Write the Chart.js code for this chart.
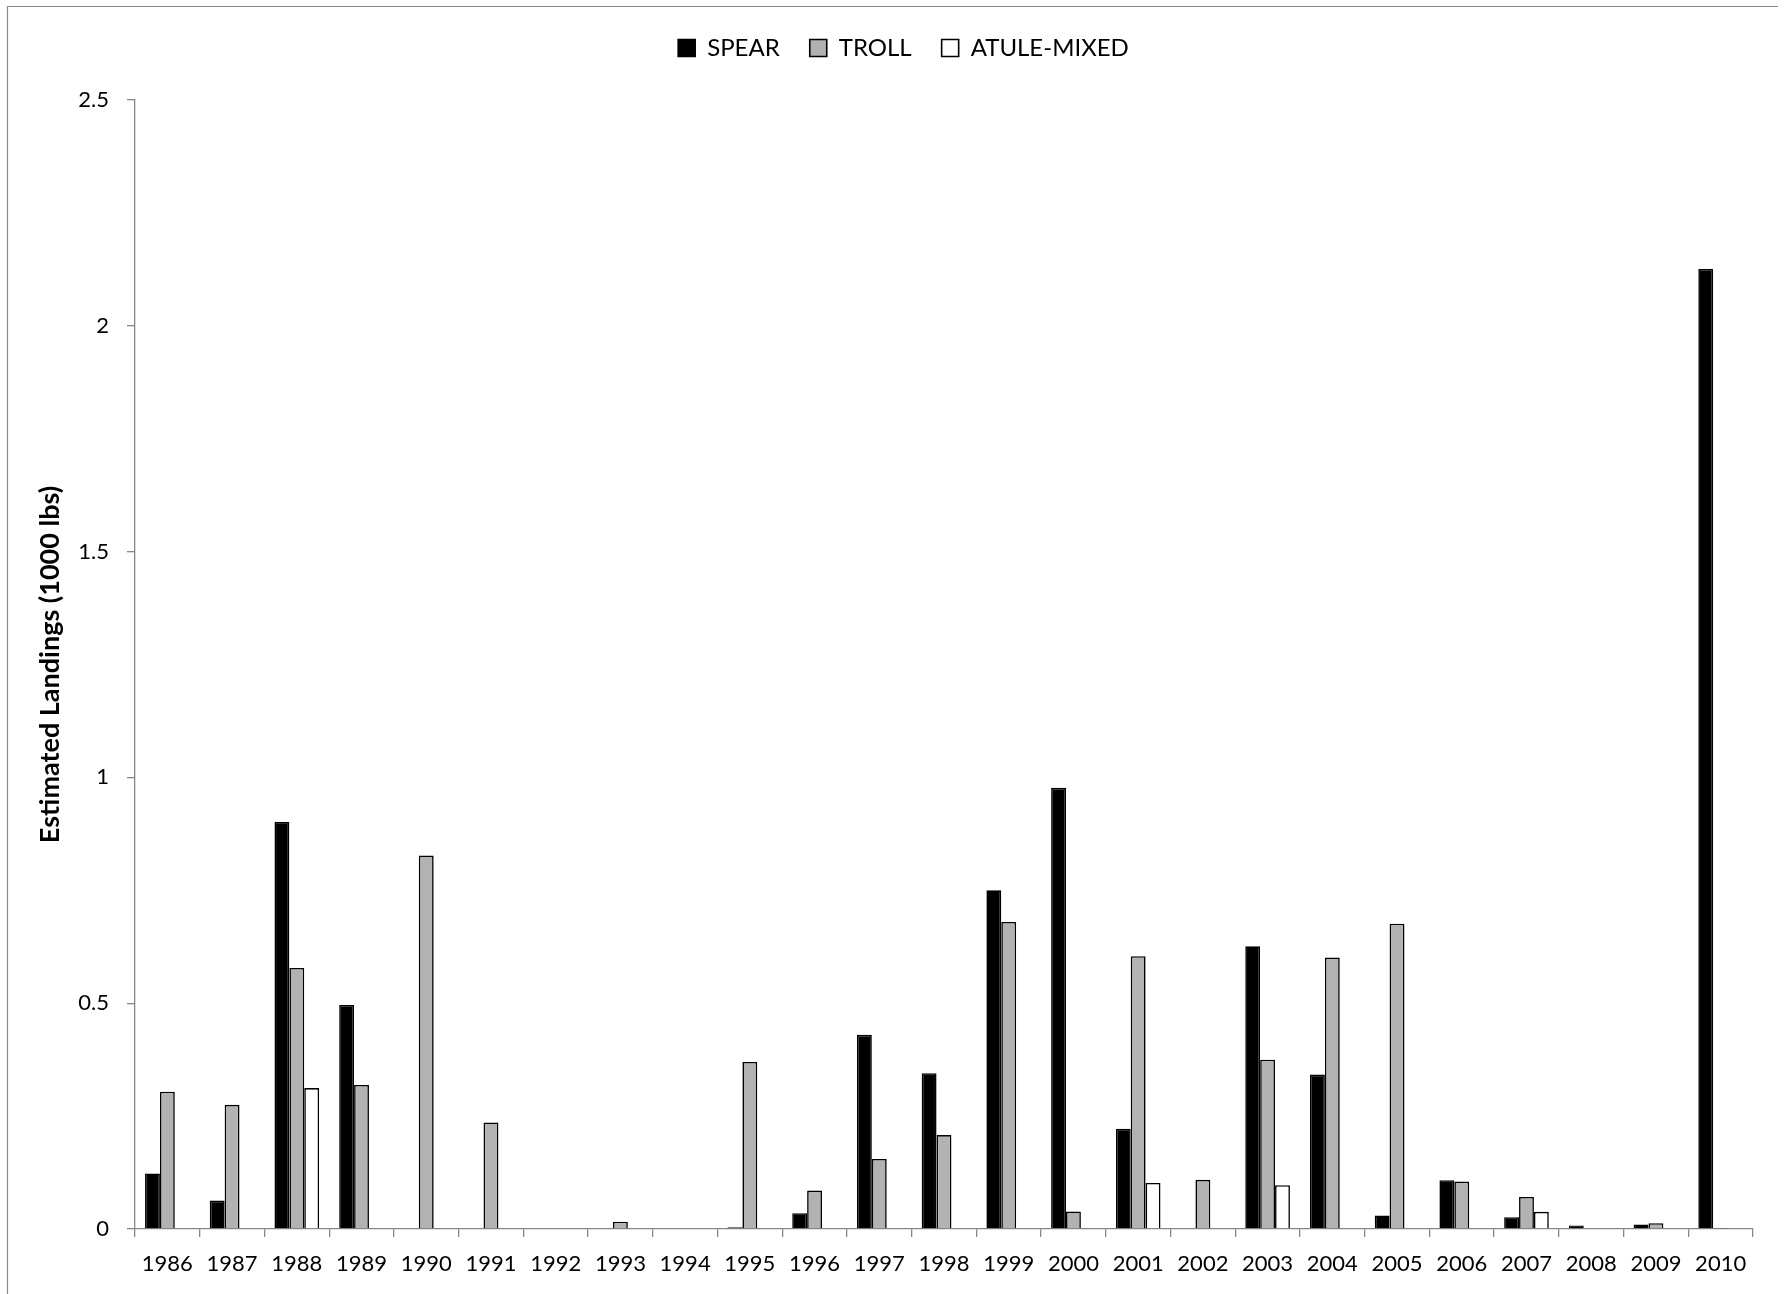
<!DOCTYPE html>
<html>
<head>
<meta charset="utf-8">
<script src="https://cdn.jsdelivr.net/npm/chart.js@4.4.1/dist/chart.umd.min.js"></script>
<style>
  html, body { margin: 0; padding: 0; background: #ffffff; }
  #wrap { width: 1787px; height: 1294px; }
</style>
</head>
<body>
<div id="wrap"><canvas id="c" width="1787" height="1294"></canvas></div>
<script>
const years = ['1986','1987','1988','1989','1990','1991','1992','1993','1994','1995','1996','1997','1998','1999','2000','2001','2002','2003','2004','2005','2006','2007','2008','2009','2010'];
const spear = [0.123,0.063,0.901,0.496,0,0,0,0,0,0.004,0.035,0.430,0.345,0.750,0.977,0.222,0,0.626,0.342,0.030,0.108,0.026,0.008,0.010,2.126];
const troll = [0.304,0.275,0.578,0.319,0.827,0.236,0,0.016,0,0.370,0.085,0.155,0.208,0.680,0.039,0.604,0.109,0.375,0.601,0.676,0.105,0.071,0,0.013,0.002];
const atuleMixed = [0,0,0.312,0,0,0,0,0,0,0,0,0,0,0,0,0.102,0,0.097,0,0,0,0.038,0,0,0];
const seriesNames = ['SPEAR','TROLL','ATULE-MIXED'];
const yTickLabels = ['0','0.5','1','1.5','2','2.5'];
const yTitle = 'Estimated Landings (1000 lbs)';

const AXIS = '#868686';
const FONT = 'Lato';

const framePlugin = {
  id: 'frame',
  beforeInit(chart) {
    const lg = chart.legend;
    if (lg && !lg._patched) {
      const fit = lg.fit;
      lg.fit = function () { fit.call(this); this.height += 30; };
      lg._patched = true;
    }
  },
  afterLayout(chart) {
    const lg = chart.legend;
    if (lg) { lg.left += 23; lg.right += 23; }
  },
  beforeDraw(chart) {
    const ctx = chart.ctx;
    ctx.save();
    ctx.fillStyle = '#ffffff';
    ctx.fillRect(0, 0, chart.width, chart.height);
    ctx.strokeStyle = '#8a8a8a';
    ctx.lineWidth = 1.2;
    ctx.beginPath();
    ctx.moveTo(7.5, chart.height);
    ctx.lineTo(7.5, 6.5);
    ctx.lineTo(1778, 6.5);
    ctx.stroke();
    ctx.restore();
  }
};

new Chart(document.getElementById('c'), {
  type: 'bar',
  data: {
    labels: years,
    datasets: [
      { label: seriesNames[0], data: spear, backgroundColor: '#000000', borderColor: '#000000', borderWidth: 1.6 },
      { label: seriesNames[1], data: troll, backgroundColor: '#b2b2b2', borderColor: '#000000', borderWidth: 1.6 },
      { label: seriesNames[2], data: atuleMixed, backgroundColor: '#ffffff', borderColor: '#000000', borderWidth: 1.6 }
    ]
  },
  options: {
    responsive: false,
    animation: false,
    devicePixelRatio: 1,
    layout: { padding: { left: 8, right: 34, top: 6, bottom: 0 } },
    datasets: { bar: { categoryPercentage: 0.69, barPercentage: 1.0 } },
    plugins: {
      legend: {
        position: 'top',
        align: 'center',
        labels: {
          color: '#000000',
          font: { family: FONT, size: 24 },
          boxWidth: 17,
          boxHeight: 17,
          padding: 30
        }
      },
      tooltip: { enabled: false }
    },
    scales: {
      x: {
        offset: true,
        grid: { display: true, offset: true, drawOnChartArea: false, drawTicks: true, tickLength: 8, color: AXIS, lineWidth: 1.3 },
        border: { display: true, color: AXIS, width: 1.3 },
        ticks: { color: '#000000', font: { family: FONT, size: 22 }, padding: 14, maxRotation: 0, autoSkip: false },
        afterFit(s) { s.height = 65; }
      },
      y: {
        min: 0,
        max: 2.5,
        grid: { display: true, drawOnChartArea: false, drawTicks: true, tickLength: 8, color: AXIS, lineWidth: 1.3 },
        border: { display: true, color: AXIS, width: 1.3 },
        ticks: {
          stepSize: 0.5,
          color: '#000000',
          font: { family: FONT, size: 22 },
          padding: 18,
          callback: (v) => yTickLabels[Math.round(v / 0.5)]
        },
        title: {
          display: true,
          text: yTitle,
          color: '#000000',
          font: { family: FONT, size: 27, weight: 'bold' },
          padding: { top: 26, bottom: 0 }
        },
        afterFit(s) { s.width = 127; }
      }
    }
  },
  plugins: [framePlugin]
});
</script>
</body>
</html>
